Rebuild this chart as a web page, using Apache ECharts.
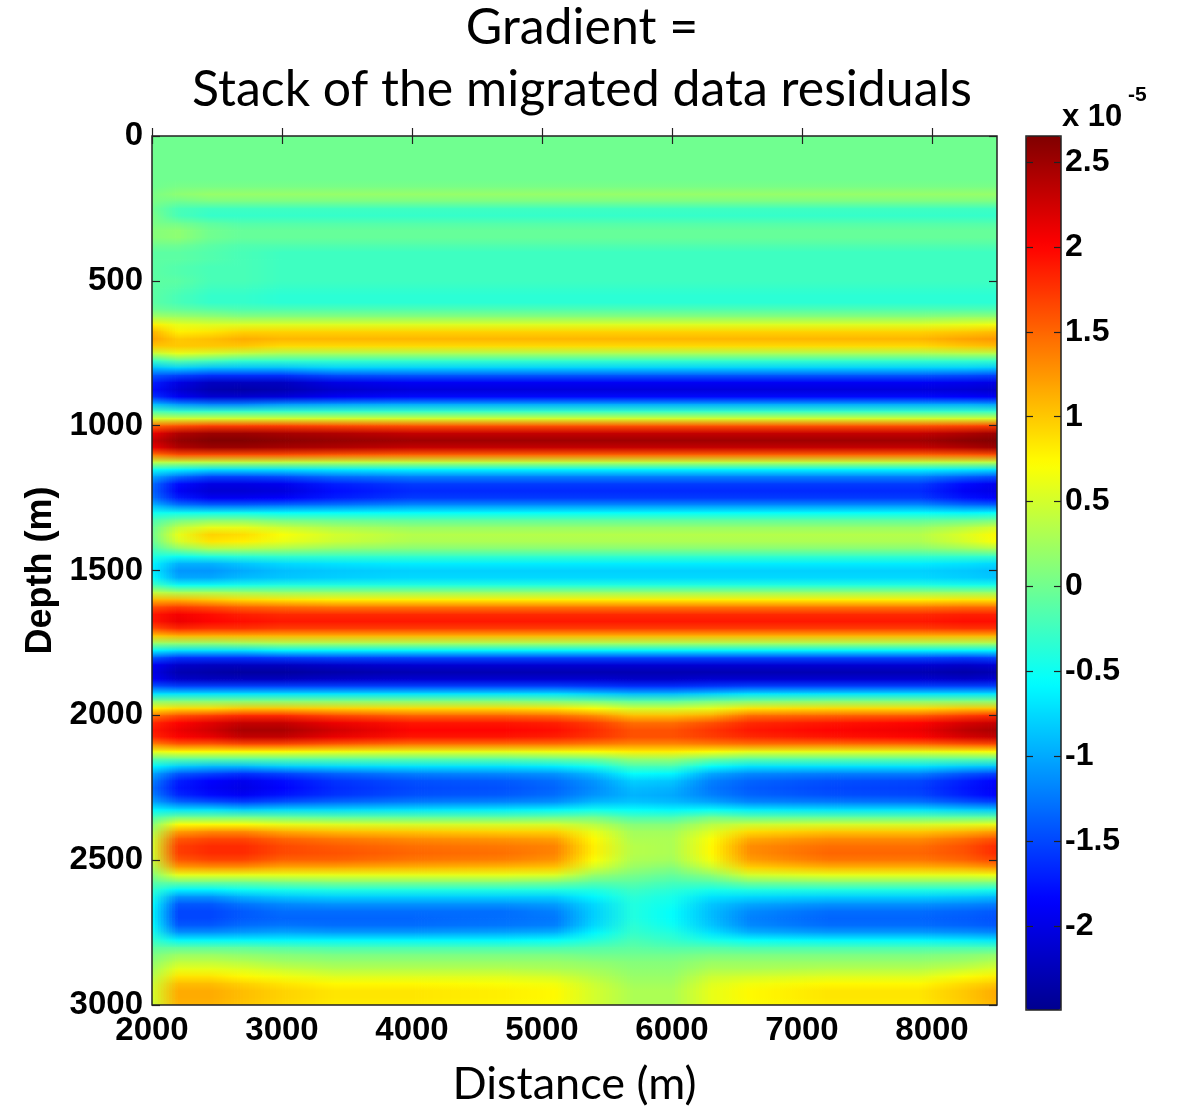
<!DOCTYPE html>
<html>
<head>
<meta charset="utf-8">
<script src="https://cdn.jsdelivr.net/npm/echarts@6/dist/echarts.min.js"></script>
<style>
  html, body { margin: 0; padding: 0; background: #fff; }
  #chart { width: 1177px; height: 1113px; }
</style>
</head>
<body>
<div id="chart"></div>
<script>
// Depth samples (m), one per row of the gradient section
const depths = [
  0, 25, 50, 75, 100, 125, 150, 175, 200, 225,
  250, 275, 300, 325, 350, 375, 400, 425, 450, 475,
  500, 525, 550, 575, 600, 625, 650, 675, 700, 725,
  750, 775, 800, 825, 850, 875, 900, 925, 950, 975,
  1000, 1025, 1050, 1075, 1100, 1125, 1150, 1175, 1200, 1225,
  1250, 1275, 1300, 1325, 1350, 1375, 1400, 1425, 1450, 1475,
  1500, 1525, 1550, 1575, 1600, 1625, 1650, 1675, 1700, 1725,
  1750, 1775, 1800, 1825, 1850, 1875, 1900, 1925, 1950, 1975,
  2000, 2025, 2050, 2075, 2100, 2125, 2150, 2175, 2200, 2225,
  2250, 2275, 2300, 2325, 2350, 2375, 2400, 2425, 2450, 2475,
  2500, 2525, 2550, 2575, 2600, 2625, 2650, 2675, 2700, 2725,
  2750, 2775, 2800, 2825, 2850, 2875, 2900, 2925, 2950, 2975,
  3000
];

// Trace positions (m) along the line
const distances = [2000, 2200, 2450, 2700, 3000, 3400, 4000, 4700, 5100,
                   5400, 5700, 6000, 6300, 6600, 7200, 7900, 8250, 8500];

// Gradient traces (x 1e-5), one value per depth sample
const trace2000 = [
  0, 0, 0, 0, 0, 0, 0, 0, 0.05, 0.05,
  0, 0.05, 0.05, 0.1, 0.1, 0, -0.1, -0.1, -0.1, -0.1,
  -0.1, -0.1, -0.1, -0.1, 0, 0.3, 0.8, 1.1, 1.2, 1.0,
  0.4, -0.3, -0.9, -1.4, -1.7, -1.8, -1.6, -0.9, -0.2, 0.5,
  1.5, 2.1, 2.3, 2.1, 1.4, 0.4, -0.5, -1.0, -1.3, -1.35,
  -1.25, -0.9, -0.5, -0.2, -0.05, 0, -0.05, -0.2, -0.4, -0.6,
  -0.65, -0.55, -0.2, 0.4, 1.1, 1.6, 1.9, 1.9, 1.6, 1.0,
  0.2, -0.6, -1.4, -1.9, -2.0, -1.9, -1.4, -0.7, 0.1, 0.8,
  1.4, 1.8, 1.9, 1.8, 1.3, 0.6, -0.1, -0.6, -1.0, -1.2,
  -1.3, -1.2, -1.0, -0.6, -0.2, 0.1, 0.3, 0.45, 0.5, 0.5,
  0.45, 0.3, 0.1, -0.1, -0.3, -0.45, -0.55, -0.6, -0.6, -0.55,
  -0.45, -0.3, -0.1, 0.05, 0.15, 0.25, 0.35, 0.45, 0.5, 0.5,
  0.45
];
const trace2200 = [
  0, 0, 0, 0, 0, 0, 0, 0.05, 0.15, 0,
  -0.2, -0.2, 0, 0.15, 0.15, 0, -0.1, -0.1, -0.15, -0.15,
  -0.1, -0.15, -0.2, -0.2, -0.05, 0.25, 0.6, 0.8, 1.0, 1.0,
  0.6, -0.1, -0.8, -1.5, -2.0, -2.1, -1.9, -1.1, -0.3, 0.5,
  1.6, 2.4, 2.55, 2.4, 1.6, 0.4, -0.6, -1.3, -1.8, -1.9,
  -1.7, -1.2, -0.5, 0, 0.4, 0.6, 0.5, 0.1, -0.5, -0.95,
  -1.1, -1.0, -0.5, 0.3, 1.1, 1.7, 2.05, 2.1, 1.8, 1.1,
  0.2, -0.7, -1.6, -2.15, -2.3, -2.15, -1.5, -0.7, 0.1, 0.9,
  1.6, 2.0, 2.1, 2.0, 1.5, 0.7, -0.1, -0.8, -1.4, -1.7,
  -1.75, -1.65, -1.3, -0.7, 0, 0.7, 1.2, 1.55, 1.7, 1.7,
  1.55, 1.2, 0.6, 0, -0.6, -1.1, -1.4, -1.5, -1.5, -1.4,
  -1.1, -0.6, -0.1, 0.2, 0.4, 0.6, 0.85, 1.05, 1.15, 1.15,
  1.1
];
const trace2450 = [
  0, 0, 0, 0, 0, 0, 0, 0.05, 0.2, 0.05,
  -0.25, -0.3, -0.1, 0, 0, -0.1, -0.15, -0.15, -0.2, -0.2,
  -0.2, -0.25, -0.3, -0.3, -0.1, 0.2, 0.55, 0.85, 1.05, 1.0,
  0.5, -0.2, -0.9, -1.6, -2.2, -2.3, -2.1, -1.2, -0.3, 0.5,
  1.7, 2.5, 2.65, 2.5, 1.6, 0.4, -0.7, -1.5, -2.0, -2.1,
  -1.9, -1.3, -0.5, 0.1, 0.6, 0.95, 0.85, 0.3, -0.4, -0.95,
  -1.1, -1.0, -0.5, 0.3, 1.0, 1.6, 1.95, 2.0, 1.75, 1.1,
  0.2, -0.7, -1.6, -2.2, -2.35, -2.2, -1.5, -0.7, 0.1, 0.9,
  1.7, 2.15, 2.25, 2.1, 1.5, 0.7, -0.1, -0.9, -1.5, -1.85,
  -1.9, -1.8, -1.4, -0.7, 0, 0.7, 1.3, 1.65, 1.8, 1.8,
  1.65, 1.25, 0.6, 0, -0.6, -1.1, -1.4, -1.5, -1.5, -1.4,
  -1.1, -0.6, -0.1, 0.2, 0.4, 0.6, 0.85, 1.05, 1.15, 1.15,
  1.1
];
const trace2700 = [
  0, 0, 0, 0, 0, 0, 0, 0.05, 0.2, 0.05,
  -0.25, -0.3, -0.15, -0.05, -0.05, -0.15, -0.2, -0.2, -0.2, -0.2,
  -0.2, -0.25, -0.3, -0.3, -0.15, 0.15, 0.55, 0.95, 1.15, 1.0,
  0.4, -0.3, -0.9, -1.6, -2.2, -2.35, -2.1, -1.2, -0.3, 0.5,
  1.7, 2.5, 2.65, 2.5, 1.6, 0.4, -0.7, -1.5, -2.0, -2.1,
  -1.9, -1.3, -0.5, 0.1, 0.6, 0.9, 0.8, 0.3, -0.35, -0.85,
  -1.0, -0.9, -0.45, 0.25, 0.9, 1.5, 1.85, 1.95, 1.75, 1.1,
  0.25, -0.7, -1.6, -2.2, -2.4, -2.2, -1.5, -0.7, 0.1, 1.0,
  1.8, 2.3, 2.45, 2.3, 1.6, 0.7, -0.1, -0.9, -1.6, -1.95,
  -2.0, -1.9, -1.5, -0.8, 0, 0.7, 1.3, 1.65, 1.8, 1.8,
  1.65, 1.25, 0.6, 0, -0.5, -0.95, -1.25, -1.4, -1.4, -1.3,
  -1.05, -0.6, -0.1, 0.15, 0.35, 0.55, 0.75, 0.95, 1.05, 1.05,
  1.0
];
const trace3000 = [
  0, 0, 0, 0, 0, 0, 0, 0.05, 0.2, 0.05,
  -0.25, -0.3, -0.15, -0.05, -0.05, -0.15, -0.25, -0.25, -0.25, -0.25,
  -0.25, -0.3, -0.35, -0.35, -0.15, 0.15, 0.55, 0.95, 1.1, 0.9,
  0.3, -0.3, -0.9, -1.6, -2.2, -2.3, -2.05, -1.1, -0.3, 0.5,
  1.7, 2.45, 2.6, 2.45, 1.6, 0.4, -0.7, -1.45, -1.95, -2.05,
  -1.85, -1.25, -0.55, 0, 0.45, 0.7, 0.6, 0.25, -0.3, -0.75,
  -0.9, -0.85, -0.4, 0.2, 0.85, 1.45, 1.8, 1.9, 1.7, 1.1,
  0.3, -0.6, -1.55, -2.2, -2.4, -2.2, -1.5, -0.7, 0.1, 1.0,
  1.8, 2.3, 2.45, 2.3, 1.6, 0.7, -0.1, -0.8, -1.5, -1.8,
  -1.85, -1.75, -1.4, -0.75, -0.05, 0.6, 1.15, 1.5, 1.65, 1.65,
  1.5, 1.15, 0.6, 0.05, -0.45, -0.85, -1.15, -1.3, -1.35, -1.25,
  -1.0, -0.6, -0.15, 0.1, 0.25, 0.45, 0.65, 0.85, 0.95, 0.95,
  0.9
];
const trace3400 = [
  0, 0, 0, 0, 0, 0, 0, 0.05, 0.2, 0.05,
  -0.25, -0.3, -0.15, -0.05, -0.05, -0.15, -0.25, -0.25, -0.25, -0.25,
  -0.25, -0.3, -0.35, -0.35, -0.15, 0.15, 0.55, 0.95, 1.1, 0.9,
  0.3, -0.3, -0.8, -1.45, -2.0, -2.15, -1.9, -1.05, -0.3, 0.5,
  1.65, 2.4, 2.55, 2.4, 1.55, 0.4, -0.65, -1.3, -1.7, -1.8,
  -1.7, -1.2, -0.55, -0.05, 0.3, 0.5, 0.45, 0.15, -0.3, -0.7,
  -0.85, -0.8, -0.4, 0.2, 0.8, 1.4, 1.8, 1.9, 1.7, 1.1,
  0.3, -0.6, -1.5, -2.15, -2.35, -2.15, -1.5, -0.7, 0.1, 0.95,
  1.65, 2.1, 2.25, 2.1, 1.5, 0.65, -0.1, -0.75, -1.35, -1.6,
  -1.65, -1.6, -1.3, -0.75, -0.1, 0.55, 1.05, 1.4, 1.55, 1.6,
  1.5, 1.15, 0.6, 0.1, -0.4, -0.8, -1.1, -1.3, -1.35, -1.3,
  -1.05, -0.6, -0.2, 0.05, 0.2, 0.35, 0.55, 0.75, 0.85, 0.85,
  0.8
];
const trace4000 = [
  0, 0, 0, 0, 0, 0, 0, 0.05, 0.2, 0.05,
  -0.25, -0.3, -0.15, -0.05, -0.05, -0.15, -0.25, -0.25, -0.25, -0.25,
  -0.25, -0.3, -0.35, -0.35, -0.15, 0.15, 0.55, 0.95, 1.1, 0.9,
  0.3, -0.3, -0.8, -1.4, -1.9, -2.05, -1.8, -1.0, -0.3, 0.5,
  1.6, 2.3, 2.5, 2.3, 1.5, 0.4, -0.6, -1.2, -1.55, -1.65,
  -1.55, -1.1, -0.55, -0.1, 0.2, 0.35, 0.3, 0.1, -0.3, -0.65,
  -0.8, -0.75, -0.4, 0.2, 0.8, 1.4, 1.8, 1.9, 1.7, 1.1,
  0.3, -0.6, -1.5, -2.1, -2.3, -2.1, -1.5, -0.7, 0.1, 0.9,
  1.5, 1.9, 2.0, 1.9, 1.4, 0.6, -0.1, -0.7, -1.2, -1.45,
  -1.5, -1.45, -1.2, -0.7, -0.1, 0.5, 1.0, 1.3, 1.45, 1.5,
  1.4, 1.1, 0.6, 0.1, -0.4, -0.8, -1.1, -1.3, -1.35, -1.3,
  -1.05, -0.6, -0.2, 0.05, 0.2, 0.35, 0.55, 0.75, 0.85, 0.85,
  0.8
];
const trace4700 = [
  0, 0, 0, 0, 0, 0, 0, 0.05, 0.2, 0.05,
  -0.25, -0.3, -0.15, -0.05, -0.05, -0.15, -0.25, -0.25, -0.25, -0.25,
  -0.25, -0.3, -0.35, -0.35, -0.15, 0.15, 0.55, 0.95, 1.1, 0.9,
  0.3, -0.3, -0.8, -1.4, -1.9, -2.05, -1.8, -1.0, -0.3, 0.5,
  1.6, 2.3, 2.5, 2.3, 1.5, 0.4, -0.6, -1.2, -1.55, -1.65,
  -1.55, -1.1, -0.55, -0.1, 0.2, 0.35, 0.3, 0.1, -0.3, -0.65,
  -0.8, -0.75, -0.4, 0.2, 0.8, 1.4, 1.8, 1.9, 1.7, 1.1,
  0.3, -0.6, -1.5, -2.1, -2.3, -2.1, -1.5, -0.7, 0.1, 0.9,
  1.5, 1.9, 2.0, 1.9, 1.4, 0.6, -0.1, -0.7, -1.15, -1.4,
  -1.45, -1.4, -1.15, -0.65, -0.1, 0.5, 0.95, 1.25, 1.4, 1.45,
  1.35, 1.05, 0.6, 0.1, -0.4, -0.8, -1.1, -1.3, -1.3, -1.25,
  -1.0, -0.6, -0.2, 0.05, 0.2, 0.35, 0.55, 0.7, 0.8, 0.8,
  0.75
];
const trace5100 = [
  0, 0, 0, 0, 0, 0, 0, 0.05, 0.2, 0.05,
  -0.25, -0.3, -0.15, -0.05, -0.05, -0.15, -0.25, -0.25, -0.25, -0.25,
  -0.25, -0.3, -0.35, -0.35, -0.15, 0.15, 0.55, 0.95, 1.1, 0.9,
  0.3, -0.3, -0.8, -1.4, -1.9, -2.05, -1.8, -1.0, -0.3, 0.5,
  1.6, 2.3, 2.5, 2.3, 1.5, 0.4, -0.6, -1.2, -1.55, -1.65,
  -1.55, -1.1, -0.55, -0.1, 0.2, 0.35, 0.3, 0.1, -0.3, -0.65,
  -0.8, -0.75, -0.4, 0.2, 0.8, 1.4, 1.8, 1.9, 1.7, 1.1,
  0.3, -0.6, -1.5, -2.1, -2.3, -2.1, -1.5, -0.7, 0.05, 0.85,
  1.45, 1.85, 1.95, 1.85, 1.4, 0.65, -0.05, -0.65, -1.1, -1.3,
  -1.35, -1.3, -1.1, -0.6, -0.05, 0.5, 0.95, 1.2, 1.35, 1.35,
  1.25, 1.0, 0.55, 0.05, -0.4, -0.8, -1.05, -1.2, -1.25, -1.2,
  -0.95, -0.55, -0.2, 0.05, 0.2, 0.3, 0.5, 0.65, 0.75, 0.75,
  0.7
];
const trace5400 = [
  0, 0, 0, 0, 0, 0, 0, 0.05, 0.2, 0.05,
  -0.25, -0.3, -0.15, -0.05, -0.05, -0.15, -0.25, -0.25, -0.25, -0.25,
  -0.25, -0.3, -0.35, -0.35, -0.15, 0.15, 0.55, 0.95, 1.1, 0.9,
  0.3, -0.3, -0.8, -1.4, -1.9, -2.05, -1.8, -1.0, -0.3, 0.5,
  1.6, 2.3, 2.5, 2.3, 1.5, 0.4, -0.6, -1.2, -1.55, -1.65,
  -1.55, -1.1, -0.55, -0.1, 0.2, 0.35, 0.3, 0.1, -0.3, -0.65,
  -0.8, -0.75, -0.4, 0.2, 0.8, 1.4, 1.8, 1.9, 1.7, 1.1,
  0.3, -0.6, -1.5, -2.1, -2.3, -2.1, -1.55, -0.8, 0.0, 0.7,
  1.3, 1.7, 1.8, 1.75, 1.35, 0.7, 0.0, -0.5, -0.9, -1.1,
  -1.15, -1.1, -0.9, -0.5, 0.0, 0.35, 0.6, 0.75, 0.8, 0.8,
  0.7, 0.5, 0.2, -0.1, -0.4, -0.6, -0.75, -0.8, -0.8, -0.75,
  -0.6, -0.4, -0.15, 0.0, 0.15, 0.25, 0.35, 0.45, 0.5, 0.5,
  0.5
];
const trace5700 = [
  0, 0, 0, 0, 0, 0, 0, 0.05, 0.2, 0.05,
  -0.25, -0.3, -0.15, -0.05, -0.05, -0.15, -0.25, -0.25, -0.25, -0.25,
  -0.25, -0.3, -0.35, -0.35, -0.15, 0.15, 0.55, 0.95, 1.1, 0.9,
  0.3, -0.3, -0.8, -1.4, -1.9, -2.05, -1.8, -1.0, -0.3, 0.5,
  1.6, 2.3, 2.5, 2.3, 1.5, 0.4, -0.6, -1.2, -1.55, -1.65,
  -1.55, -1.1, -0.55, -0.1, 0.2, 0.35, 0.3, 0.1, -0.3, -0.65,
  -0.8, -0.75, -0.4, 0.2, 0.8, 1.4, 1.8, 1.9, 1.7, 1.1,
  0.3, -0.6, -1.5, -2.1, -2.3, -2.15, -1.6, -0.9, -0.1, 0.5,
  1.05, 1.45, 1.6, 1.6, 1.3, 0.8, 0.2, -0.2, -0.55, -0.8,
  -0.9, -0.95, -0.85, -0.55, -0.2, 0.1, 0.25, 0.3, 0.35, 0.35,
  0.3, 0.2, 0.05, -0.1, -0.25, -0.35, -0.4, -0.4, -0.4, -0.35,
  -0.3, -0.2, -0.1, 0.0, 0.1, 0.15, 0.2, 0.25, 0.3, 0.3,
  0.3
];
const trace6000 = [
  0, 0, 0, 0, 0, 0, 0, 0.05, 0.2, 0.05,
  -0.25, -0.3, -0.15, -0.05, -0.05, -0.15, -0.25, -0.25, -0.25, -0.25,
  -0.25, -0.3, -0.35, -0.35, -0.15, 0.15, 0.55, 0.95, 1.1, 0.9,
  0.3, -0.3, -0.8, -1.4, -1.9, -2.05, -1.8, -1.0, -0.3, 0.5,
  1.6, 2.3, 2.5, 2.3, 1.5, 0.4, -0.6, -1.2, -1.55, -1.65,
  -1.55, -1.1, -0.55, -0.1, 0.2, 0.35, 0.3, 0.1, -0.3, -0.65,
  -0.8, -0.75, -0.4, 0.2, 0.8, 1.4, 1.8, 1.9, 1.7, 1.1,
  0.3, -0.6, -1.5, -2.1, -2.3, -2.15, -1.6, -0.9, -0.1, 0.5,
  1.05, 1.45, 1.6, 1.6, 1.3, 0.8, 0.2, -0.2, -0.6, -0.85,
  -0.95, -1.0, -0.9, -0.6, -0.2, 0.1, 0.25, 0.3, 0.3, 0.3,
  0.25, 0.1, -0.05, -0.2, -0.35, -0.45, -0.5, -0.55, -0.55, -0.5,
  -0.4, -0.3, -0.15, 0.0, 0.1, 0.15, 0.2, 0.25, 0.3, 0.3,
  0.3
];
const trace6300 = [
  0, 0, 0, 0, 0, 0, 0, 0.05, 0.2, 0.05,
  -0.25, -0.3, -0.15, -0.05, -0.05, -0.15, -0.25, -0.25, -0.25, -0.25,
  -0.25, -0.3, -0.35, -0.35, -0.15, 0.15, 0.55, 0.95, 1.1, 0.9,
  0.3, -0.3, -0.8, -1.4, -1.9, -2.05, -1.8, -1.0, -0.3, 0.5,
  1.6, 2.3, 2.5, 2.3, 1.5, 0.4, -0.6, -1.2, -1.55, -1.65,
  -1.55, -1.1, -0.55, -0.1, 0.2, 0.35, 0.3, 0.1, -0.3, -0.65,
  -0.8, -0.75, -0.4, 0.2, 0.8, 1.4, 1.8, 1.9, 1.7, 1.1,
  0.3, -0.6, -1.5, -2.1, -2.3, -2.1, -1.55, -0.8, 0.0, 0.6,
  1.15, 1.6, 1.75, 1.7, 1.35, 0.7, 0.0, -0.55, -1.0, -1.2,
  -1.25, -1.2, -1.0, -0.55, 0.0, 0.35, 0.55, 0.7, 0.75, 0.75,
  0.65, 0.45, 0.15, -0.15, -0.45, -0.7, -0.85, -0.9, -0.9, -0.85,
  -0.7, -0.45, -0.15, 0.05, 0.2, 0.3, 0.45, 0.55, 0.6, 0.6,
  0.6
];
const trace6600 = [
  0, 0, 0, 0, 0, 0, 0, 0.05, 0.2, 0.05,
  -0.25, -0.3, -0.15, -0.05, -0.05, -0.15, -0.25, -0.25, -0.25, -0.25,
  -0.25, -0.3, -0.35, -0.35, -0.15, 0.15, 0.55, 0.95, 1.1, 0.9,
  0.3, -0.3, -0.8, -1.4, -1.9, -2.05, -1.8, -1.0, -0.3, 0.5,
  1.6, 2.3, 2.5, 2.3, 1.5, 0.4, -0.6, -1.2, -1.55, -1.65,
  -1.55, -1.1, -0.55, -0.1, 0.2, 0.35, 0.3, 0.1, -0.3, -0.65,
  -0.8, -0.75, -0.4, 0.2, 0.8, 1.4, 1.8, 1.9, 1.7, 1.1,
  0.3, -0.6, -1.5, -2.1, -2.3, -2.1, -1.5, -0.7, 0.05, 0.85,
  1.45, 1.8, 1.9, 1.8, 1.4, 0.6, -0.1, -0.7, -1.15, -1.35,
  -1.4, -1.35, -1.15, -0.65, -0.1, 0.45, 0.9, 1.15, 1.3, 1.3,
  1.2, 0.95, 0.5, 0.05, -0.4, -0.75, -1.0, -1.15, -1.2, -1.15,
  -0.95, -0.55, -0.2, 0.05, 0.2, 0.3, 0.5, 0.65, 0.75, 0.75,
  0.7
];
const trace7200 = [
  0, 0, 0, 0, 0, 0, 0, 0.05, 0.2, 0.05,
  -0.25, -0.3, -0.15, -0.05, -0.05, -0.15, -0.25, -0.25, -0.25, -0.25,
  -0.25, -0.3, -0.35, -0.35, -0.15, 0.15, 0.55, 0.95, 1.1, 0.9,
  0.3, -0.3, -0.8, -1.4, -1.9, -2.05, -1.8, -1.0, -0.3, 0.5,
  1.6, 2.3, 2.5, 2.3, 1.5, 0.4, -0.6, -1.2, -1.55, -1.65,
  -1.55, -1.1, -0.55, -0.1, 0.2, 0.35, 0.3, 0.1, -0.3, -0.65,
  -0.8, -0.75, -0.4, 0.2, 0.8, 1.4, 1.8, 1.9, 1.7, 1.1,
  0.3, -0.6, -1.5, -2.1, -2.3, -2.1, -1.5, -0.7, 0.1, 0.9,
  1.5, 1.9, 2.0, 1.9, 1.4, 0.6, -0.1, -0.7, -1.2, -1.45,
  -1.5, -1.45, -1.2, -0.7, -0.1, 0.5, 1.0, 1.3, 1.45, 1.5,
  1.4, 1.1, 0.6, 0.1, -0.4, -0.8, -1.1, -1.3, -1.35, -1.3,
  -1.05, -0.6, -0.2, 0.05, 0.2, 0.35, 0.55, 0.75, 0.85, 0.85,
  0.8
];
const trace7900 = [
  0, 0, 0, 0, 0, 0, 0, 0.05, 0.2, 0.05,
  -0.25, -0.3, -0.15, -0.05, -0.05, -0.15, -0.25, -0.25, -0.25, -0.25,
  -0.25, -0.3, -0.35, -0.35, -0.15, 0.15, 0.55, 0.95, 1.1, 0.9,
  0.3, -0.3, -0.8, -1.4, -1.9, -2.05, -1.8, -1.0, -0.3, 0.5,
  1.6, 2.3, 2.5, 2.3, 1.5, 0.4, -0.6, -1.2, -1.55, -1.65,
  -1.55, -1.1, -0.55, -0.1, 0.2, 0.35, 0.3, 0.1, -0.3, -0.65,
  -0.8, -0.75, -0.4, 0.2, 0.8, 1.4, 1.8, 1.9, 1.7, 1.1,
  0.3, -0.6, -1.5, -2.1, -2.3, -2.1, -1.5, -0.7, 0.1, 0.9,
  1.55, 2.0, 2.1, 2.0, 1.45, 0.6, -0.1, -0.7, -1.2, -1.5,
  -1.55, -1.5, -1.25, -0.7, -0.1, 0.5, 1.0, 1.3, 1.45, 1.5,
  1.4, 1.1, 0.6, 0.1, -0.4, -0.8, -1.1, -1.3, -1.35, -1.3,
  -1.05, -0.6, -0.2, 0.05, 0.2, 0.35, 0.55, 0.75, 0.85, 0.85,
  0.8
];
const trace8250 = [
  0, 0, 0, 0, 0, 0, 0, 0.05, 0.2, 0.05,
  -0.25, -0.3, -0.15, -0.05, -0.05, -0.15, -0.25, -0.25, -0.25, -0.25,
  -0.25, -0.3, -0.35, -0.35, -0.15, 0.2, 0.6, 1.0, 1.2, 1.0,
  0.35, -0.3, -0.8, -1.45, -1.95, -2.1, -1.85, -1.0, -0.3, 0.5,
  1.65, 2.4, 2.6, 2.4, 1.55, 0.4, -0.65, -1.35, -1.8, -1.9,
  -1.75, -1.25, -0.6, -0.05, 0.35, 0.55, 0.5, 0.2, -0.3, -0.7,
  -0.85, -0.8, -0.45, 0.2, 0.85, 1.45, 1.85, 1.95, 1.75, 1.1,
  0.3, -0.6, -1.55, -2.15, -2.35, -2.15, -1.5, -0.7, 0.1, 1.0,
  1.7, 2.2, 2.35, 2.2, 1.55, 0.65, -0.1, -0.8, -1.4, -1.7,
  -1.75, -1.7, -1.4, -0.8, -0.1, 0.55, 1.1, 1.45, 1.6, 1.6,
  1.5, 1.15, 0.6, 0.1, -0.4, -0.85, -1.15, -1.35, -1.4, -1.35,
  -1.1, -0.65, -0.2, 0.1, 0.25, 0.45, 0.7, 0.9, 1.0, 1.0,
  0.95
];
const trace8500 = [
  0, 0, 0, 0, 0, 0, 0, 0.05, 0.2, 0.05,
  -0.25, -0.3, -0.15, -0.05, -0.05, -0.15, -0.25, -0.25, -0.25, -0.25,
  -0.25, -0.3, -0.35, -0.35, -0.15, 0.2, 0.65, 1.05, 1.25, 1.05,
  0.35, -0.3, -0.85, -1.5, -2.0, -2.15, -1.9, -1.05, -0.3, 0.5,
  1.7, 2.5, 2.65, 2.5, 1.6, 0.4, -0.7, -1.45, -1.95, -2.0,
  -1.85, -1.3, -0.55, 0.0, 0.5, 0.75, 0.7, 0.3, -0.3, -0.75,
  -0.9, -0.85, -0.45, 0.2, 0.85, 1.45, 1.85, 1.95, 1.75, 1.1,
  0.3, -0.6, -1.5, -2.1, -2.3, -2.1, -1.5, -0.7, 0.1, 1.0,
  1.8, 2.3, 2.45, 2.3, 1.6, 0.7, -0.1, -0.85, -1.5, -1.85,
  -1.9, -1.85, -1.5, -0.85, -0.1, 0.6, 1.2, 1.6, 1.8, 1.8,
  1.65, 1.25, 0.65, 0.1, -0.45, -0.9, -1.2, -1.4, -1.45, -1.4,
  -1.15, -0.7, -0.2, 0.15, 0.35, 0.55, 0.8, 1.0, 1.15, 1.15,
  1.1
];

const traces = [trace2000, trace2200, trace2450, trace2700, trace3000, trace3400,
                trace4000, trace4700, trace5100, trace5400, trace5700, trace6000,
                trace6300, trace6600, trace7200, trace7900, trace8250, trace8500];

// Axis ticks and colour scale limits
const depthTicks = [0, 500, 1000, 1500, 2000, 2500, 3000];
const distanceTicks = [2000, 3000, 4000, 5000, 6000, 7000, 8000];
const colorTicks = [-2, -1.5, -1, -0.5, 0, 0.5, 1, 1.5, 2, 2.5];
const colorRange = [-2.494, 2.653];

// One node per (trace, depth) sample
const nDepth = depths.length;
const nodes = [];
distances.forEach(function (d, i) {
  depths.forEach(function (z, j) {
    nodes.push([d, z, traces[i][j]]);
  });
});

const jet = ['#00008f', '#0000ff', '#0080ff', '#00ffff', '#80ff80',
             '#ffff00', '#ff8000', '#ff0000', '#800000'];

// Node colours as assigned by the visualMap
const nodeColors = [];
function recordColors(params, api) {
  nodeColors[params.dataIndex] = api.visual('color');
  return null;
}

// Shade the patch between four neighbouring nodes (interpolated shading)
function shadePatch(params, api) {
  const k = params.dataIndex;
  const i = Math.floor(k / nDepth);
  const j = k % nDepth;
  nodeColors[k] = api.visual('color');
  if (i === 0 || j === 0) return null;
  const a = api.coord([distances[i - 1], depths[j - 1]]);
  const b = api.coord([api.value(0), api.value(1)]);
  const ctl = nodeColors[k - nDepth - 1];
  const cbl = nodeColors[k - nDepth];
  const ctr = nodeColors[k - 1];
  const cbr = nodeColors[k];
  const w = b[0] - a[0];
  const h = b[1] - a[1];
  const n = (ctl === ctr && cbl === cbr) ? 1 : Math.max(1, Math.round(w / 3));
  const children = [];
  for (let s = 0; s < n; s++) {
    const f = n === 1 ? 0 : (s + 0.5) / n;
    const top = echarts.color.lerp(f, [ctl, ctr]);
    const bot = echarts.color.lerp(f, [cbl, cbr]);
    children.push({
      type: 'rect',
      shape: { x: a[0] + s * w / n, y: a[1], width: w / n + 0.8, height: h + 0.8 },
      style: {
        fill: new echarts.graphic.LinearGradient(0, 0, 0, 1, [
          { offset: 0, color: top }, { offset: 1, color: bot }
        ])
      }
    });
  }
  return { type: 'group', children: children };
}

const tickFont = { fontFamily: 'Liberation Sans', fontWeight: 'bold', fontSize: 33, color: '#000' };
const plain = function (v) { return String(v); };

const chart = echarts.init(document.getElementById('chart'), null, { renderer: 'canvas' });
chart.setOption({
  animation: false,
  backgroundColor: '#fff',
  title: {
    text: 'Gradient =\nStack of the migrated data residuals',
    left: 577, top: -8, textAlign: 'center',
    textStyle: { fontFamily: 'Lato', fontWeight: 'normal', fontSize: 50, lineHeight: 62, color: '#000' }
  },
  graphic: [
    { type: 'text', left: 1062, top: 102, style: { text: 'x 10', font: 'bold 31px "Liberation Sans"', fill: '#000' } },
    { type: 'text', left: 1128, top: 85, style: { text: '-5', font: 'bold 21px "Liberation Sans"', fill: '#000' } }
  ],
  grid: [
    { left: 152, top: 136, width: 845, height: 869, outerBoundsMode: 'none', containLabel: false,
      show: true, borderColor: '#222', borderWidth: 1.5, backgroundColor: 'transparent', z: 10 },
    { left: 1026, top: 136, width: 35, height: 874, outerBoundsMode: 'none', containLabel: false,
      show: true, borderColor: '#222', borderWidth: 1.5, backgroundColor: 'transparent', z: 10 }
  ],
  xAxis: [
    {
      gridIndex: 0, type: 'value', min: 2000, max: 8500, position: 'bottom', z: 10,
      axisLine: { show: false }, splitLine: { show: false },
      axisTick: { show: true, inside: true, length: 8, customValues: distanceTicks, lineStyle: { color: '#222', width: 1.2 } },
      axisLabel: Object.assign({ show: true, margin: 9, customValues: distanceTicks, formatter: plain }, tickFont),
      name: 'Distance (m)', nameLocation: 'middle', nameGap: 57,
      nameTextStyle: { fontFamily: 'Lato', fontSize: 45, color: '#000' }
    },
    {
      gridIndex: 0, type: 'value', min: 2000, max: 8500, position: 'top', z: 10,
      axisLine: { show: false }, splitLine: { show: false },
      axisTick: { show: true, inside: true, length: 8, customValues: distanceTicks, lineStyle: { color: '#222', width: 1.2 } },
      axisLabel: { show: false }
    },
    {
      gridIndex: 1, type: 'value', min: 0, max: 1, show: false
    }
  ],
  yAxis: [
    {
      gridIndex: 0, type: 'value', min: 0, max: 3000, inverse: true, position: 'left', z: 10,
      axisLine: { show: false }, splitLine: { show: false },
      axisTick: { show: true, inside: true, length: 8, customValues: depthTicks, lineStyle: { color: '#222', width: 1.2 } },
      axisLabel: Object.assign({ show: true, margin: 9, customValues: depthTicks, formatter: plain }, tickFont),
      name: 'Depth (m)', nameLocation: 'middle', nameGap: 90, nameRotate: 90,
      nameTextStyle: { fontFamily: 'Liberation Sans', fontWeight: 'bold', fontSize: 36, color: '#000' }
    },
    {
      gridIndex: 0, type: 'value', min: 0, max: 3000, inverse: true, position: 'right', z: 10,
      axisLine: { show: false }, splitLine: { show: false },
      axisTick: { show: true, inside: true, length: 8, customValues: depthTicks, lineStyle: { color: '#222', width: 1.2 } },
      axisLabel: { show: false }
    },
    {
      gridIndex: 1, type: 'value', min: colorRange[0], max: colorRange[1], position: 'left', z: 10,
      axisLine: { show: false }, splitLine: { show: false },
      axisTick: { show: true, inside: true, length: 7, customValues: colorTicks, lineStyle: { color: '#222', width: 1.2 } },
      axisLabel: { show: false }
    },
    {
      gridIndex: 1, type: 'value', min: colorRange[0], max: colorRange[1], position: 'right', z: 10,
      axisLine: { show: false }, splitLine: { show: false },
      axisTick: { show: true, inside: true, length: 7, customValues: colorTicks, lineStyle: { color: '#222', width: 1.2 } },
      axisLabel: { show: true, margin: 4, customValues: colorTicks, formatter: plain, fontFamily: 'Liberation Sans', fontWeight: 'bold', fontSize: 32, color: '#000' }
    }
  ],
  visualMap: {
    type: 'continuous',
    seriesIndex: 0,
    dimension: 2,
    min: colorRange[0],
    max: colorRange[1],
    calculable: false,
    hoverLink: false,
    orient: 'vertical',
    align: 'left',
    left: 1026,
    top: 136,
    itemWidth: 35,
    itemHeight: 874,
    padding: 0,
    inRange: { color: jet }
  },
  series: [{
    id: 'field',
    type: 'custom',
    xAxisIndex: 0,
    yAxisIndex: 0,
    silent: true,
    clip: true,
    encode: { x: 0, y: 1 },
    data: nodes,
    renderItem: recordColors
  }]
});

// Second pass: every node colour is known, draw the shaded section
chart.setOption({ series: [{ id: 'field', renderItem: shadePatch }] });
</script>
</body>
</html>
